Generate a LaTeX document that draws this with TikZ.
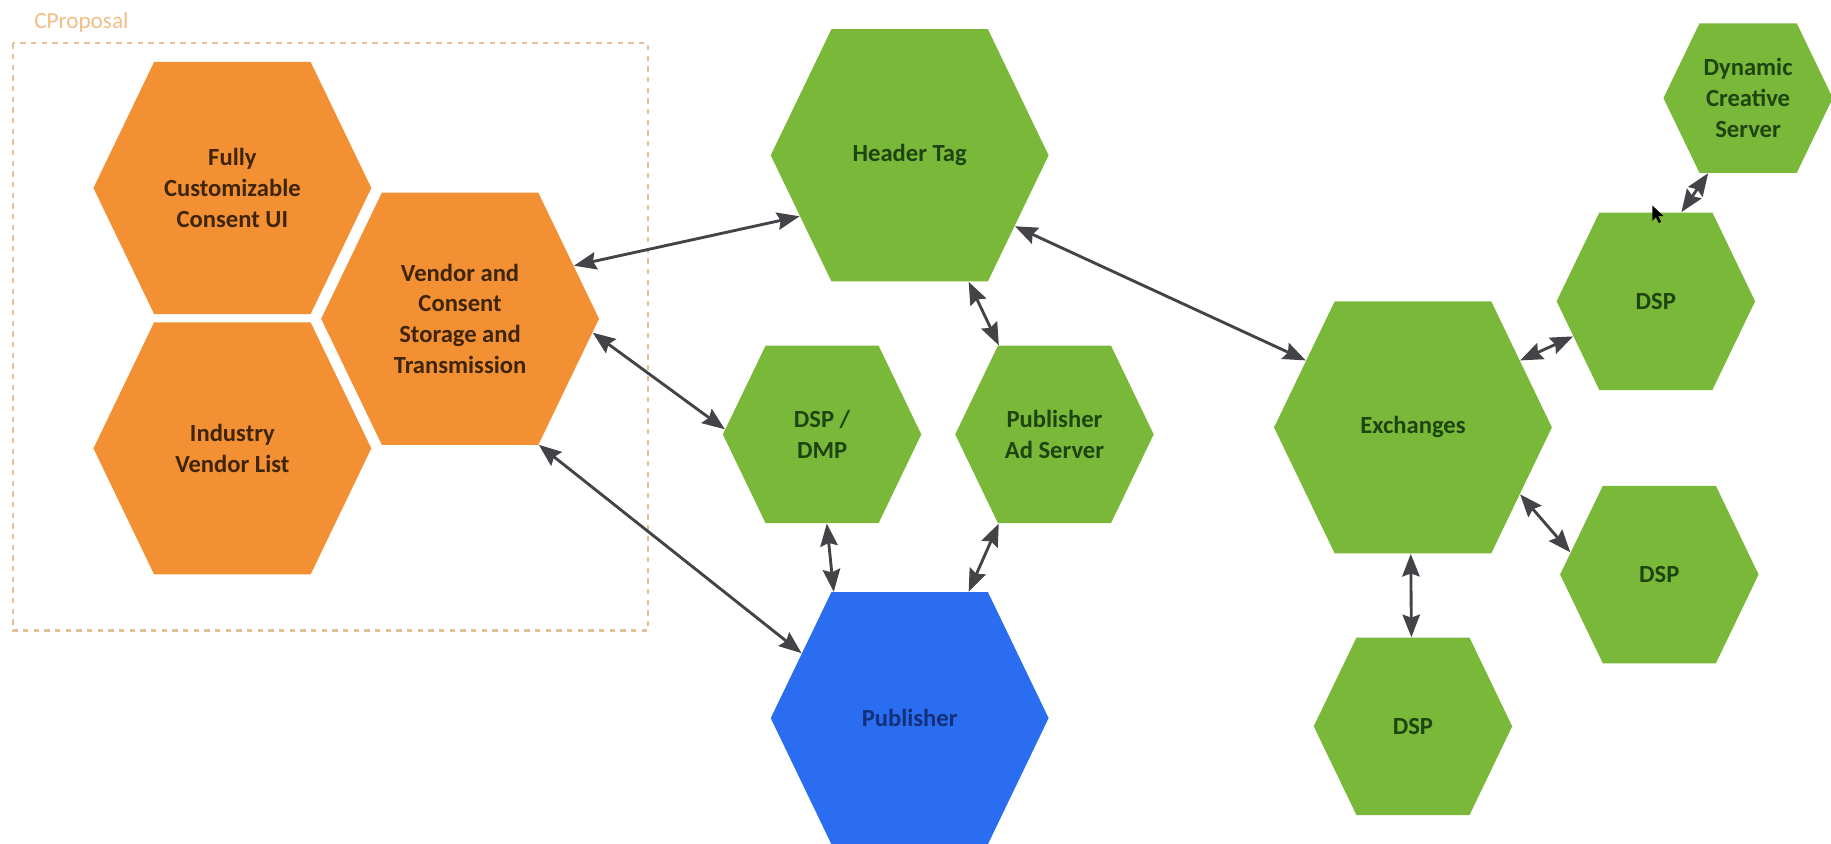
\documentclass[tikz,border=0pt]{standalone}
\usepackage{fontspec}
\setmainfont{Carlito}
\usetikzlibrary{shapes.symbols,arrows.meta}
\definecolor{hexorange}{HTML}{F39033}
\definecolor{hexgreen}{HTML}{7AB83A}
\definecolor{hexblue}{HTML}{2A6DF0}
\definecolor{orangetext}{HTML}{3F2508}
\definecolor{greentext}{HTML}{1E4410}
\definecolor{bluetext}{HTML}{13307A}
\definecolor{linkgray}{HTML}{434348}
\definecolor{dashcol}{HTML}{E2C09A}
\definecolor{labelcol}{HTML}{F2BE86}
\begin{document}
\begin{tikzpicture}[x=0.02cm,y=-0.02cm,
  hexbase/.style={signal, signal to=east and west, signal pointer angle=128.6,
    inner sep=0pt, align=center, font=\bfseries\fontsize{12}{15}\selectfont},
  bighex/.style={hexbase, minimum width=4.76cm, minimum height=4.32cm},
  smallhex/.style={hexbase, minimum width=3.40cm, minimum height=3.04cm},
  tinyhex/.style={hexbase, minimum width=2.90cm, minimum height=2.56cm},
  orangehex/.style={fill=hexorange, text=orangetext},
  greenhex/.style={fill=hexgreen, text=greentext},
  bluehex/.style={fill=hexblue, text=bluetext},
  tip/.tip={Stealth[length=11pt,width=8.5pt,inset=1.5pt]},
  link/.style={draw=linkgray, line width=1.4pt, tip-tip},
  dashbox/.style={draw=dashcol, line width=1.1pt, dash pattern=on 2.6pt off 2.6pt}
]
\useasboundingbox (0,0) rectangle (1568,722);

% group frame
\draw[dashbox] (11,37) rectangle (555,540);
\node[anchor=west, text=labelcol, font=\fontsize{11.3}{13}\selectfont, inner sep=0pt] (lbl) at (29,19) {CProposal};

% orange hexagons
\node[bighex, orangehex] (ui)  at (199,161) {Fully\\Customizable\\Consent UI};
\node[bighex, orangehex] (ivl) at (199,384) {Industry\\Vendor List};
\node[bighex, orangehex] (vcs) at (394,273) {Vendor and\\Consent\\Storage and\\Transmission};

% green / blue hexagons
\node[bighex, greenhex] (ht)  at (779,133) {Header Tag};
\node[bighex, bluehex]  (pub) at (779,615) {Publisher};
\node[smallhex, greenhex] (dd)  at (704,372) {DSP /\\DMP};
\node[smallhex, greenhex] (pas) at (903,372) {Publisher\\Ad Server};
\node[bighex, greenhex] (ex)  at (1210,366) {Exchanges};
\node[tinyhex, greenhex] (dcs) at (1497,84) {Dynamic\\Creative\\Server};
\node[smallhex, greenhex] (dsp1) at (1418,258) {DSP};
\node[smallhex, greenhex] (dsp2) at (1421,492) {DSP};
\node[smallhex, greenhex] (dsp3) at (1210,622) {DSP};

% connectors
\draw[link] (vcs.25) -- (ht.209);
\draw[link] (vcs.-6) -- (dd.177);
\draw[link] (vcs.-58) -- (pub.149);
\draw[link] (ht.-65) -- (pas.122);
\draw[link] (ht.-34) -- (ex.148);
\draw[link] (dd.-87) -- (pub.121);
\draw[link] (pas.-122) -- (pub.65);
\draw[link] (ex.32) -- (dsp1.203);
\draw[link] (ex.-32) -- (dsp2.166);
\draw[link] (ex.-91) -- (dsp3.91);
\draw[link] (dcs.-118) -- (dsp1.74);

% mouse pointer
\fill[black] (1415,176) -- ++(0,13) -- ++(3,-3) -- ++(2.5,5) -- ++(2,-1) -- ++(-2.5,-5) -- ++(4.5,0) -- cycle;
\end{tikzpicture}
\end{document}
